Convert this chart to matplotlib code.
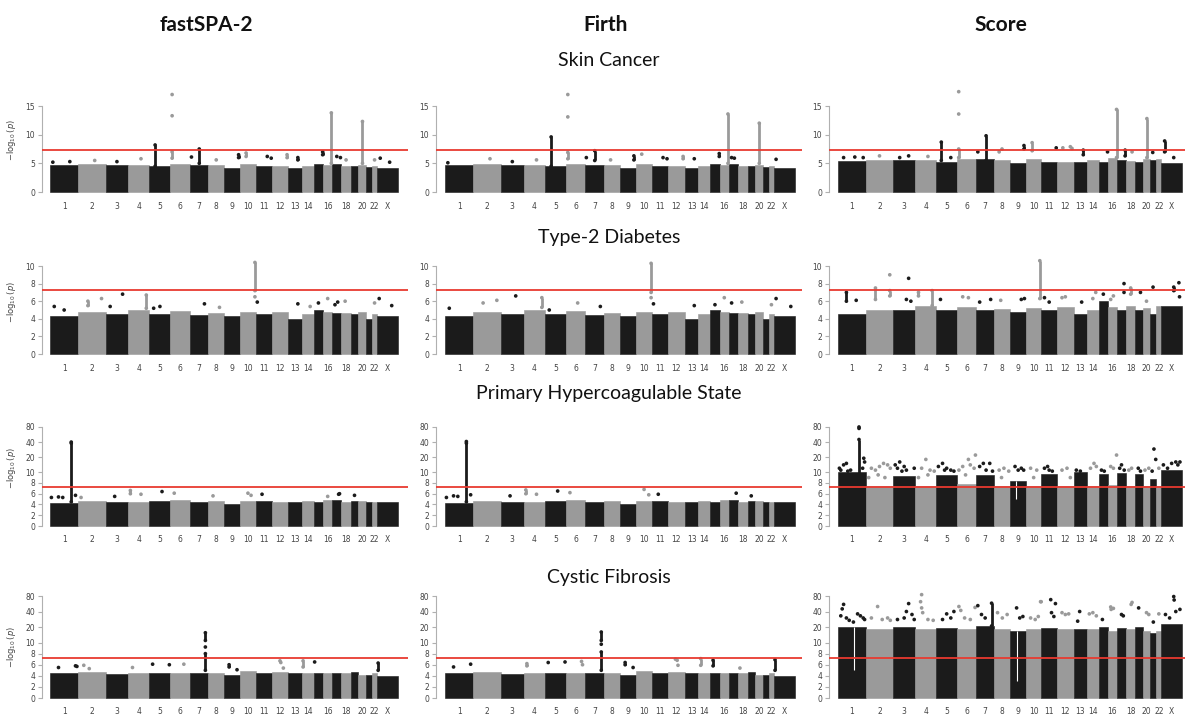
import matplotlib
matplotlib.use("Agg")
import matplotlib.pyplot as plt
import numpy as np

W, H, DPI = 1185, 716, 100

BLACK = "#1b1b1b"
GRAY = "#9a9a9a"
RED = "#e83a30"

chrom_labels = ["1", "2", "3", "4", "5", "6", "7", "8", "9", "10", "11", "12",
                "13", "14", "15", "16", "17", "18", "19", "20", "21", "22", "X"]
shown_labels = ["1", "2", "3", "4", "5", "6", "7", "8", "9", "10", "11", "12",
                "13", "14", "16", "18", "20", "22", "X"]
# relative width of each chromosome on the x axis
chrom_sizes = [84, 81, 67, 63, 62, 57, 55, 48, 47, 46, 47, 50,
               40, 35, 28, 27, 27, 28, 22, 23, 18, 15, 62]

methods = ["fastSPA-2", "Firth", "Score"]
traits = ["Skin Cancer", "Type-2 Diabetes", "Primary Hypercoagulable State", "Cystic Fibrosis"]

# top of the dense mass of points per chromosome
bulk_skin = [4.7, 4.8, 4.7, 4.7, 4.5, 4.9, 4.7, 4.7, 4.2, 4.9, 4.5, 4.6,
             4.2, 4.6, 4.8, 4.7, 4.8, 4.6, 4.5, 4.7, 4.4, 4.5, 4.2]
bulk_skin_score = [5.4, 5.5, 5.6, 5.5, 5.3, 5.7, 5.7, 5.6, 5.0, 5.7, 5.2, 5.3,
                   5.2, 5.5, 5.3, 6.0, 5.6, 5.4, 5.3, 5.7, 5.6, 5.7, 5.0]
bulk_t2d = [4.3, 4.8, 4.6, 5.0, 4.5, 4.9, 4.4, 4.7, 4.3, 4.8, 4.6, 4.8,
            4.0, 4.5, 5.0, 4.8, 4.7, 4.7, 4.6, 4.8, 4.0, 4.6, 4.3]
bulk_t2d_score = [4.5, 5.0, 5.0, 5.5, 5.0, 5.3, 5.0, 5.1, 4.8, 5.2, 5.0, 5.3,
                  4.6, 5.0, 6.0, 5.3, 5.0, 5.4, 5.0, 5.2, 4.6, 5.5, 5.5]
bulk_phs = [4.3, 4.7, 4.5, 4.4, 4.6, 4.9, 4.5, 4.7, 4.0, 4.7, 4.6, 4.5,
            4.5, 4.6, 4.4, 4.8, 4.8, 4.5, 4.7, 4.7, 4.4, 4.5, 4.4]
bulk_phs_score = [10.0, 7.4, 9.2, 7.4, 9.4, 7.8, 9.4, 7.4, 8.3, 7.4, 9.6, 7.4,
                  10.0, 7.4, 9.6, 7.6, 9.8, 7.4, 9.6, 7.4, 8.8, 7.4, 11.0]
bulk_cf = [4.6, 4.7, 4.4, 4.6, 4.6, 4.6, 4.6, 4.6, 4.2, 4.9, 4.6, 4.7,
           4.6, 4.6, 4.6, 4.5, 4.6, 4.6, 4.7, 4.2, 4.1, 4.5, 4.0]
bulk_cf_score = [20, 18, 20, 18, 19, 18, 21, 18, 17, 18, 19, 18,
                 18, 18, 20, 17, 19, 18, 20, 17, 15, 17, 23]

# (chromosome, position within chromosome, lowest, highest)
hits_skin_fastspa = [
    ("1", 0.1, 5.2, 5.2), ("1", 0.7, 5.3, 5.3), ("2", 0.6, 5.5, 5.5), ("3", 0.5, 5.3, 5.3),
    ("4", 0.6, 5.8, 5.8), ("5", 0.27, 4.5, 8.2), ("6", 0.09, 17.0, 17.0), ("6", 0.09, 13.3, 13.3),
    ("6", 0.09, 5.9, 7.0), ("7", 0.1, 6.1, 6.1), ("7", 0.52, 5.0, 7.5), ("8", 0.5, 5.6, 5.6),
    ("9", 0.9, 6.0, 6.5), ("10", 0.38, 6.2, 6.8), ("11", 0.73, 6.2, 6.2), ("11", 0.98, 5.9, 5.9),
    ("12", 0.92, 6.0, 6.5), ("13", 0.7, 5.6, 6.0), ("15", 0.95, 6.5, 7.0), ("16", 0.9, 5.0, 13.8),
    ("17", 0.5, 6.2, 6.2), ("17", 0.9, 6.0, 6.0), ("18", 0.5, 5.6, 5.6), ("20", 0.55, 5.0, 12.3),
    ("22", 0.5, 5.6, 5.6), ("X", 0.15, 5.9, 5.9), ("X", 0.6, 5.2, 5.2)]
hits_skin_firth = [
    ("1", 0.1, 5.1, 5.1), ("2", 0.6, 5.8, 5.8), ("3", 0.5, 5.3, 5.3), ("4", 0.6, 5.6, 5.6),
    ("5", 0.29, 4.5, 9.6), ("6", 0.09, 17.0, 17.0), ("6", 0.09, 13.1, 13.1), ("6", 0.09, 5.8, 6.9),
    ("7", 0.05, 6.0, 6.0), ("7", 0.5, 5.5, 7.2), ("8", 0.4, 5.6, 5.6), ("9", 0.85, 5.6, 6.3),
    ("10", 0.35, 6.6, 6.6), ("11", 0.7, 6.0, 6.0), ("11", 0.95, 5.8, 5.8), ("12", 0.9, 5.8, 6.2),
    ("13", 0.7, 5.8, 5.8), ("15", 0.95, 6.2, 6.7), ("16", 0.9, 5.0, 13.6), ("17", 0.3, 6.0, 6.0),
    ("17", 0.6, 5.9, 5.9), ("20", 0.55, 5.0, 12.0), ("X", 0.1, 5.7, 5.7)]
hits_skin_score = [
    ("1", 0.2, 6.0, 6.0), ("1", 0.6, 6.1, 6.1), ("1", 0.9, 6.0, 6.0), ("2", 0.5, 6.3, 6.3),
    ("3", 0.3, 6.0, 6.0), ("3", 0.7, 6.3, 6.3), ("4", 0.6, 6.2, 6.2), ("5", 0.24, 5.5, 8.7),
    ("5", 0.7, 6.0, 6.0), ("6", 0.09, 17.5, 17.5), ("6", 0.09, 13.6, 13.6), ("6", 0.09, 6.0, 7.5),
    ("7", 0.1, 7.0, 7.0), ("7", 0.55, 5.5, 9.8), ("8", 0.3, 7.0, 7.0), ("8", 0.48, 7.5, 7.5),
    ("9", 0.87, 7.5, 8.1), ("10", 0.4, 7.2, 8.6), ("11", 0.95, 7.7, 7.7), ("12", 0.35, 7.7, 7.7),
    ("12", 0.8, 7.9, 7.9), ("12", 0.9, 7.6, 7.6), ("13", 0.72, 6.5, 7.3), ("15", 0.95, 7.0, 7.0),
    ("16", 0.95, 6.0, 14.4), ("17", 0.9, 6.3, 7.3), ("18", 0.65, 7.0, 7.0), ("20", 0.55, 6.0, 12.8),
    ("21", 0.4, 6.9, 6.9), ("X", 0.16, 7.0, 8.9), ("X", 0.6, 6.0, 6.0)]

hits_t2d_fastspa = [
    ("1", 0.15, 5.4, 5.4), ("1", 0.5, 5.0, 5.0), ("2", 0.35, 5.5, 6.0), ("2", 0.85, 6.3, 6.3),
    ("3", 0.2, 5.4, 5.4), ("3", 0.75, 6.8, 6.8), ("4", 0.85, 5.2, 6.7), ("5", 0.2, 5.2, 5.2),
    ("5", 0.5, 5.4, 5.4), ("7", 0.8, 5.7, 5.7), ("8", 0.7, 5.3, 5.3), ("10", 0.95, 6.5, 6.5),
    ("10", 0.95, 7.2, 10.4), ("11", 0.1, 5.9, 5.9), ("13", 0.7, 5.7, 5.7), ("14", 0.7, 5.4, 5.4),
    ("15", 0.5, 5.8, 5.8), ("16", 0.5, 6.3, 6.3), ("17", 0.3, 5.6, 5.6), ("17", 0.6, 5.9, 5.9),
    ("18", 0.4, 6.0, 6.0), ("22", 0.5, 5.8, 5.8), ("X", 0.1, 6.3, 6.3), ("X", 0.7, 5.5, 5.5)]
hits_t2d_firth = [
    ("1", 0.15, 5.2, 5.2), ("2", 0.35, 5.8, 5.8), ("2", 0.85, 6.1, 6.1), ("3", 0.65, 6.6, 6.6),
    ("4", 0.85, 5.3, 6.4), ("5", 0.2, 5.0, 5.0), ("6", 0.6, 5.8, 5.8), ("7", 0.8, 5.4, 5.4),
    ("10", 0.95, 6.4, 6.4), ("10", 0.95, 7.0, 10.3), ("11", 0.1, 5.7, 5.7), ("13", 0.7, 5.5, 5.5),
    ("15", 0.5, 5.6, 5.6), ("16", 0.5, 6.4, 6.4), ("17", 0.3, 5.8, 5.8), ("18", 0.4, 5.9, 5.9),
    ("22", 0.5, 5.6, 5.6), ("X", 0.1, 6.3, 6.3), ("X", 0.8, 5.4, 5.4)]
hits_t2d_score = [
    ("1", 0.3, 6.0, 7.0), ("1", 0.65, 6.1, 6.1), ("2", 0.35, 6.2, 7.5), ("2", 0.88, 6.6, 7.2),
    ("2", 0.88, 9.0, 9.0), ("3", 0.7, 8.6, 8.6), ("3", 0.6, 6.2, 6.2), ("3", 0.8, 6.0, 6.0),
    ("4", 0.15, 6.6, 7.0), ("4", 0.8, 5.5, 7.2), ("5", 0.2, 6.2, 6.2), ("6", 0.3, 6.5, 6.5),
    ("6", 0.6, 6.4, 6.4), ("7", 0.2, 5.9, 5.9), ("7", 0.8, 6.2, 6.2), ("8", 0.4, 6.1, 6.1),
    ("9", 0.7, 6.2, 6.2), ("9", 0.9, 6.3, 6.3), ("10", 0.9, 6.3, 10.6), ("11", 0.2, 6.4, 6.4),
    ("11", 0.5, 5.9, 5.9), ("12", 0.3, 6.4, 6.4), ("12", 0.5, 6.5, 6.5), ("13", 0.6, 5.9, 5.9),
    ("14", 0.5, 6.3, 6.3), ("14", 0.75, 7.0, 7.0), ("15", 0.5, 6.8, 6.8), ("16", 0.3, 6.2, 6.2),
    ("16", 0.6, 6.6, 6.6), ("17", 0.78, 7.0, 7.0), ("17", 0.78, 8.0, 8.0), ("18", 0.5, 6.8, 7.5),
    ("19", 0.7, 7.0, 7.0), ("20", 0.5, 6.0, 6.0), ("21", 0.45, 7.6, 7.6), ("X", 0.6, 7.2, 7.6),
    ("X", 0.85, 8.1, 8.1), ("X", 0.88, 6.5, 6.5)]

hits_phs_fastspa = [
    ("1", 0.05, 5.3, 5.3), ("1", 0.3, 5.4, 5.4), ("1", 0.45, 5.3, 5.3), ("1", 0.75, 4.5, 38),
    ("1", 0.75, 40, 40), ("1", 0.9, 5.7, 5.7), ("2", 0.1, 5.3, 5.3), ("3", 0.4, 5.5, 5.5),
    ("4", 0.1, 6.0, 6.6), ("4", 0.6, 5.9, 5.9), ("5", 0.6, 6.4, 6.4), ("6", 0.2, 6.1, 6.1),
    ("8", 0.3, 5.6, 5.6), ("10", 0.5, 6.1, 6.1), ("10", 0.7, 5.7, 5.7), ("11", 0.4, 5.9, 5.9),
    ("16", 0.5, 5.5, 5.5), ("17", 0.7, 5.9, 5.9), ("17", 0.8, 6.0, 6.0), ("19", 0.5, 5.7, 5.7)]
hits_phs_firth = [
    ("1", 0.05, 5.3, 5.3), ("1", 0.3, 5.6, 5.6), ("1", 0.45, 5.5, 5.5), ("1", 0.75, 4.5, 38),
    ("1", 0.75, 41, 41), ("1", 0.9, 5.8, 5.8), ("3", 0.4, 5.6, 5.6), ("4", 0.1, 6.0, 6.7),
    ("4", 0.6, 5.9, 5.9), ("5", 0.6, 6.5, 6.5), ("6", 0.2, 6.2, 6.2), ("10", 0.5, 6.8, 6.8),
    ("10", 0.8, 5.8, 5.8), ("11", 0.4, 5.9, 5.9), ("17", 0.8, 6.1, 6.1), ("19", 0.5, 5.6, 5.6)]
hits_phs_score = [
    ("1", 0.05, 12, 12), ("1", 0.1, 11, 11), ("1", 0.2, 14, 14), ("1", 0.3, 15, 15),
    ("1", 0.35, 10.5, 10.5), ("1", 0.45, 11, 11), ("1", 0.75, 8, 45), ("1", 0.75, 75, 80),
    ("1", 0.88, 12, 12), ("1", 0.92, 19, 19), ("1", 0.95, 16, 16),
    ("2", 0.2, 12, 12), ("2", 0.35, 11, 11), ("2", 0.5, 13, 13), ("2", 0.65, 15, 15),
    ("2", 0.8, 14, 14), ("2", 0.9, 12, 12), ("2", 0.1, 9, 9), ("2", 0.45, 9.5, 9.5), ("2", 0.7, 9, 9),
    ("3", 0.1, 14, 14), ("3", 0.2, 12, 12), ("3", 0.3, 16, 16), ("3", 0.4, 10.5, 10.5),
    ("3", 0.5, 13, 13), ("3", 0.6, 11, 11), ("3", 0.95, 12, 12),
    ("4", 0.3, 12, 12), ("4", 0.5, 18, 18), ("4", 0.7, 11, 11), ("4", 0.9, 10.5, 10.5),
    ("4", 0.15, 9, 9), ("4", 0.6, 9.5, 9.5),
    ("5", 0.1, 13, 13), ("5", 0.3, 15, 15), ("5", 0.4, 11, 11), ("5", 0.5, 12, 12),
    ("5", 0.7, 11, 11), ("5", 0.85, 10.5, 10.5),
    ("6", 0.1, 11, 11), ("6", 0.3, 13, 13), ("6", 0.6, 18, 18), ("6", 0.7, 14, 14),
    ("6", 0.97, 22, 22), ("6", 0.9, 12, 12), ("6", 0.45, 9.5, 9.5),
    ("7", 0.2, 13, 13), ("7", 0.4, 15, 15), ("7", 0.55, 11, 11), ("7", 0.75, 15, 15), ("7", 0.9, 10.5, 10.5),
    ("8", 0.3, 11, 11), ("8", 0.6, 12, 12), ("8", 0.9, 10.5, 10.5), ("8", 0.45, 9, 9),
    ("9", 0.3, 13, 13), ("9", 0.5, 11, 11), ("9", 0.7, 12, 12), ("9", 0.85, 11, 11),
    ("10", 0.3, 12, 12), ("10", 0.7, 11, 11), ("10", 0.5, 9, 9),
    ("11", 0.2, 12, 12), ("11", 0.4, 13, 13), ("11", 0.5, 11, 11), ("11", 0.7, 10.5, 10.5),
    ("12", 0.3, 11, 11), ("12", 0.6, 12, 12), ("12", 0.8, 9, 9),
    ("13", 0.2, 11, 11), ("13", 0.5, 10.5, 10.5),
    ("14", 0.3, 12, 12), ("14", 0.6, 15, 15), ("14", 0.8, 13, 13),
    ("15", 0.3, 11, 11), ("15", 0.6, 10.5, 10.5),
    ("16", 0.3, 13, 13), ("16", 0.6, 12, 12), ("16", 0.95, 22, 22),
    ("17", 0.3, 12, 12), ("17", 0.5, 14, 14), ("17", 0.8, 11, 11),
    ("18", 0.3, 11, 11), ("18", 0.6, 12, 12),
    ("19", 0.4, 12, 12), ("19", 0.7, 10.5, 10.5),
    ("20", 0.3, 11, 11), ("20", 0.8, 12, 12),
    ("21", 0.3, 10.5, 10.5), ("21", 0.6, 29, 29), ("21", 0.9, 18, 18),
    ("22", 0.5, 12, 12),
    ("X", 0.1, 14, 14), ("X", 0.3, 12, 12), ("X", 0.5, 15, 15), ("X", 0.7, 16, 16),
    ("X", 0.8, 14, 14), ("X", 0.9, 16, 16)]

hits_cf_fastspa = [
    ("1", 0.3, 5.5, 5.5), ("1", 0.9, 5.8, 5.8), ("1", 0.95, 5.7, 5.7), ("2", 0.2, 5.9, 5.9),
    ("2", 0.4, 5.3, 5.3), ("4", 0.2, 5.5, 5.5), ("5", 0.15, 6.1, 6.1), ("5", 0.95, 6.0, 6.0),
    ("6", 0.7, 6.1, 6.1), ("7", 0.85, 5.0, 8.0), ("7", 0.85, 9.2, 9.2), ("7", 0.85, 11, 15.5),
    ("9", 0.3, 5.6, 6.0), ("9", 0.8, 5.1, 5.1), ("12", 0.5, 6.7, 6.7), ("12", 0.55, 6.4, 6.4),
    ("12", 0.7, 5.4, 5.4), ("14", 0.1, 5.6, 6.7), ("15", 0.1, 6.5, 6.5), ("X", 0.05, 5.0, 6.3)]
hits_cf_firth = [
    ("1", 0.3, 5.6, 5.6), ("1", 0.9, 6.1, 6.1), ("4", 0.15, 5.8, 6.2), ("5", 0.15, 6.4, 6.4),
    ("5", 0.95, 6.5, 6.5), ("6", 0.8, 6.6, 6.6), ("6", 0.85, 6.0, 6.0), ("7", 0.85, 5.0, 8.3),
    ("7", 0.85, 9.7, 9.7), ("7", 0.85, 11, 16), ("9", 0.3, 6.0, 6.4), ("9", 0.8, 5.5, 5.5),
    ("12", 0.45, 7.0, 7.0), ("12", 0.55, 6.8, 6.8), ("12", 0.6, 5.9, 5.9), ("14", 0.2, 5.9, 7.1),
    ("15", 0.3, 5.8, 6.8), ("18", 0.2, 5.4, 5.4), ("X", 0.05, 5.0, 6.9)]
hits_cf_score = [
    ("1", 0.1, 33, 33), ("1", 0.15, 45, 45), ("1", 0.2, 55, 55), ("1", 0.3, 30, 30),
    ("1", 0.4, 27, 27), ("1", 0.55, 25, 25), ("1", 0.7, 36, 36), ("1", 0.8, 33, 33),
    ("1", 0.9, 30, 30), ("1", 0.95, 28, 28),
    ("2", 0.2, 30, 30), ("2", 0.43, 50, 50), ("2", 0.6, 28, 28), ("2", 0.8, 30, 30), ("2", 0.9, 27, 27),
    ("3", 0.2, 28, 28), ("3", 0.5, 30, 30), ("3", 0.6, 40, 40), ("3", 0.7, 57, 57),
    ("3", 0.85, 35, 35), ("3", 0.95, 28, 28),
    ("4", 0.3, 85, 85), ("4", 0.25, 62, 62), ("4", 0.3, 47, 47), ("4", 0.35, 38, 38),
    ("4", 0.6, 28, 28), ("4", 0.85, 27, 27),
    ("5", 0.3, 28, 28), ("5", 0.5, 36, 36), ("5", 0.7, 30, 30), ("5", 0.85, 40, 40),
    ("6", 0.1, 50, 50), ("6", 0.2, 42, 42), ("6", 0.4, 30, 30), ("6", 0.7, 28, 28), ("6", 0.95, 48, 48),
    ("7", 0.1, 52, 52), ("7", 0.3, 35, 35), ("7", 0.5, 30, 30), ("7", 0.85, 21, 58),
    ("8", 0.2, 38, 38), ("8", 0.5, 30, 30), ("8", 0.8, 35, 35),
    ("9", 0.4, 47, 47), ("9", 0.6, 30, 30), ("9", 0.8, 32, 32),
    ("10", 0.3, 30, 30), ("10", 0.6, 28, 28), ("10", 0.8, 32, 32), ("10", 0.95, 62, 62), ("10", 0.99, 62, 62),
    ("11", 0.6, 68, 68), ("11", 0.65, 38, 38), ("11", 0.8, 32, 32), ("11", 0.9, 57, 57),
    ("12", 0.3, 38, 38), ("12", 0.5, 35, 35), ("12", 0.7, 36, 36),
    ("13", 0.3, 26, 26), ("13", 0.45, 40, 40),
    ("14", 0.2, 36, 36), ("14", 0.5, 38, 38), ("14", 0.8, 33, 33),
    ("15", 0.4, 28, 28),
    ("16", 0.3, 49, 49), ("16", 0.35, 44, 44), ("16", 0.6, 46, 46),
    ("17", 0.5, 35, 35), ("17", 0.7, 33, 33),
    ("18", 0.55, 55, 55), ("18", 0.65, 60, 60),
    ("19", 0.45, 47, 47),
    ("20", 0.5, 38, 38), ("20", 0.8, 35, 35),
    ("21", 0.5, 25, 25),
    ("22", 0.5, 36, 36),
    ("X", 0.2, 35, 35), ("X", 0.4, 30, 30), ("X", 0.6, 78, 78), ("X", 0.62, 67, 67),
    ("X", 0.7, 40, 40), ("X", 0.9, 44, 44)]

# thin empty gaps (centromeres) visible inside the mass: (chromosome, position, lowest, highest)
gaps_phs_score = [("9", 0.35, 5.0, 8.3)]
gaps_cf_score = [("1", 0.58, 5.0, 20), ("9", 0.45, 3.0, 17)]

bulks = [[bulk_skin, bulk_skin, bulk_skin_score],
         [bulk_t2d, bulk_t2d, bulk_t2d_score],
         [bulk_phs, bulk_phs, bulk_phs_score],
         [bulk_cf, bulk_cf, bulk_cf_score]]
hits = [[hits_skin_fastspa, hits_skin_firth, hits_skin_score],
        [hits_t2d_fastspa, hits_t2d_firth, hits_t2d_score],
        [hits_phs_fastspa, hits_phs_firth, hits_phs_score],
        [hits_cf_fastspa, hits_cf_firth, hits_cf_score]]
gaps = [[[], [], []], [[], [], []], [[], [], gaps_phs_score], [[], [], gaps_cf_score]]

GWAS_LINE = 7.3

# y axis: linear up to 10, log2-compressed above (rows 3 and 4)
K = 2.8


def fwd(y):
    y = np.asarray(y, dtype=float)
    return np.where(y <= 10, y, 10 + K * np.log2(np.maximum(y, 10) / 10))


def inv(t):
    t = np.asarray(t, dtype=float)
    return np.where(t <= 10, t, 10 * 2 ** ((np.maximum(t, 10) - 10) / K))


def ident(y):
    return np.asarray(y, dtype=float)


# panel geometry in pixels
col_axis_x = [42, 436, 829]
col_data_x0 = [50, 445, 838]
col_data_x1 = [398, 795, 1182]
col_line_end = [408, 802, 1185]

row_zero_px = [192, 354, 526, 698]
row_top_px = [106, 266, 427, 596]
row_yticks = [[0, 5, 10, 15], [0, 2, 4, 6, 8, 10],
              [0, 2, 4, 6, 8, 10, 20, 40, 80], [0, 2, 4, 6, 8, 10, 20, 40, 80]]
row_ylim = [(-0.35, 17.8), (-0.2, 11.0), (-0.2, 85), (-0.2, 85)]
row_scaled = [False, False, True, True]
row_title_y = [60, 237, 393, 577]
row_ylabel_y = [140, 302, 468, 647]

total = sum(chrom_sizes)
starts = np.concatenate([[0], np.cumsum(chrom_sizes)[:-1]])
centers = starts + np.array(chrom_sizes) / 2
chrom_colors = [BLACK if i % 2 == 0 else GRAY for i in range(len(chrom_labels))]

fig = plt.figure(figsize=(W / DPI, H / DPI), dpi=DPI)
fig.patch.set_facecolor("white")


def chrom_x(chrom, frac):
    i = chrom_labels.index(chrom)
    return starts[i] + frac * chrom_sizes[i], chrom_colors[i]


def draw_panel(r, c):
    f = fwd if row_scaled[r] else ident
    lo, hi = row_ylim[r]
    ticks = row_yticks[r]
    ppu = (row_zero_px[r] - row_top_px[r]) / (f(ticks[-1]) - f(0))
    bottom_px = row_zero_px[r] + (f(0) - f(lo)) * ppu
    top_px = row_zero_px[r] - (f(hi) - f(0)) * ppu

    upp = total / (col_data_x1[c] - col_data_x0[c])
    xl = -(col_data_x0[c] - col_axis_x[c]) * upp
    xr = total + (col_line_end[c] - col_data_x1[c]) * upp

    ax = fig.add_axes([col_axis_x[c] / W, 1 - bottom_px / H,
                       (col_line_end[c] - col_axis_x[c]) / W, (bottom_px - top_px) / H])
    if row_scaled[r]:
        ax.set_yscale("function", functions=(fwd, inv))
    ax.set_xlim(xl, xr)
    ax.set_ylim(lo, hi)

    ax.bar(starts, bulks[r][c], width=chrom_sizes, align="edge",
           color=chrom_colors, edgecolor=chrom_colors, linewidth=0.4, zorder=2)

    for chrom, frac, y0, y1 in gaps[r][c]:
        x, _ = chrom_x(chrom, frac)
        ax.vlines(x, y0, y1, color="white", lw=0.8, zorder=2.5)

    xs, ys, cs = [], [], []
    for chrom, frac, y0, y1 in hits[r][c]:
        x, col = chrom_x(chrom, frac)
        if y1 > y0:
            ax.vlines(x, y0, y1, color=col, lw=2.0, zorder=3, clip_on=False)
            xs += [x, x]
            ys += [y0, y1]
            cs += [col, col]
        else:
            xs.append(x)
            ys.append(y1)
            cs.append(col)
    ax.scatter(xs, ys, s=7, c=cs, linewidths=0, zorder=4, clip_on=False)

    ax.axhline(GWAS_LINE, color=RED, lw=1.3, zorder=5)

    for side in ["top", "right", "bottom"]:
        ax.spines[side].set_visible(False)
    ax.spines["left"].set_color("#b0b0b0")
    ax.spines["left"].set_linewidth(0.8)
    ax.spines["left"].set_bounds(0, ticks[-1])
    ax.set_yticks(ticks)
    ax.set_yticklabels([str(t) for t in ticks])
    ax.yaxis.set_minor_locator(matplotlib.ticker.NullLocator())
    ax.tick_params(axis="y", length=3, width=0.8, color="#b0b0b0",
                   labelsize=5.5, labelcolor="#444444", pad=2)
    idx = [chrom_labels.index(s) for s in shown_labels]
    ax.set_xticks(centers[idx])
    ax.set_xticklabels(shown_labels)
    ax.tick_params(axis="x", length=0, labelsize=5.5, labelcolor="#444444", pad=6)
    ax.set_facecolor("none")

    if c == 0:
        fig.text(12 / W, 1 - row_ylabel_y[r] / H, r"$-\log_{10}(\mathit{p})$",
                 rotation=90, ha="center", va="center", fontsize=6, color="#444444")


for r in range(4):
    for c in range(3):
        draw_panel(r, c)
    fig.text(609 / W, 1 - row_title_y[r] / H, traits[r], ha="center", va="center",
             fontsize=14, family=["Lato", "DejaVu Sans"], color="#111111")

for c, x in enumerate([206, 606, 1001]):
    fig.text(x / W, 1 - 25 / H, methods[c], ha="center", va="center", fontsize=15,
             fontweight="bold", family=["Lato", "DejaVu Sans"], color="#111111")

fig.savefig("out.png", dpi=DPI)
